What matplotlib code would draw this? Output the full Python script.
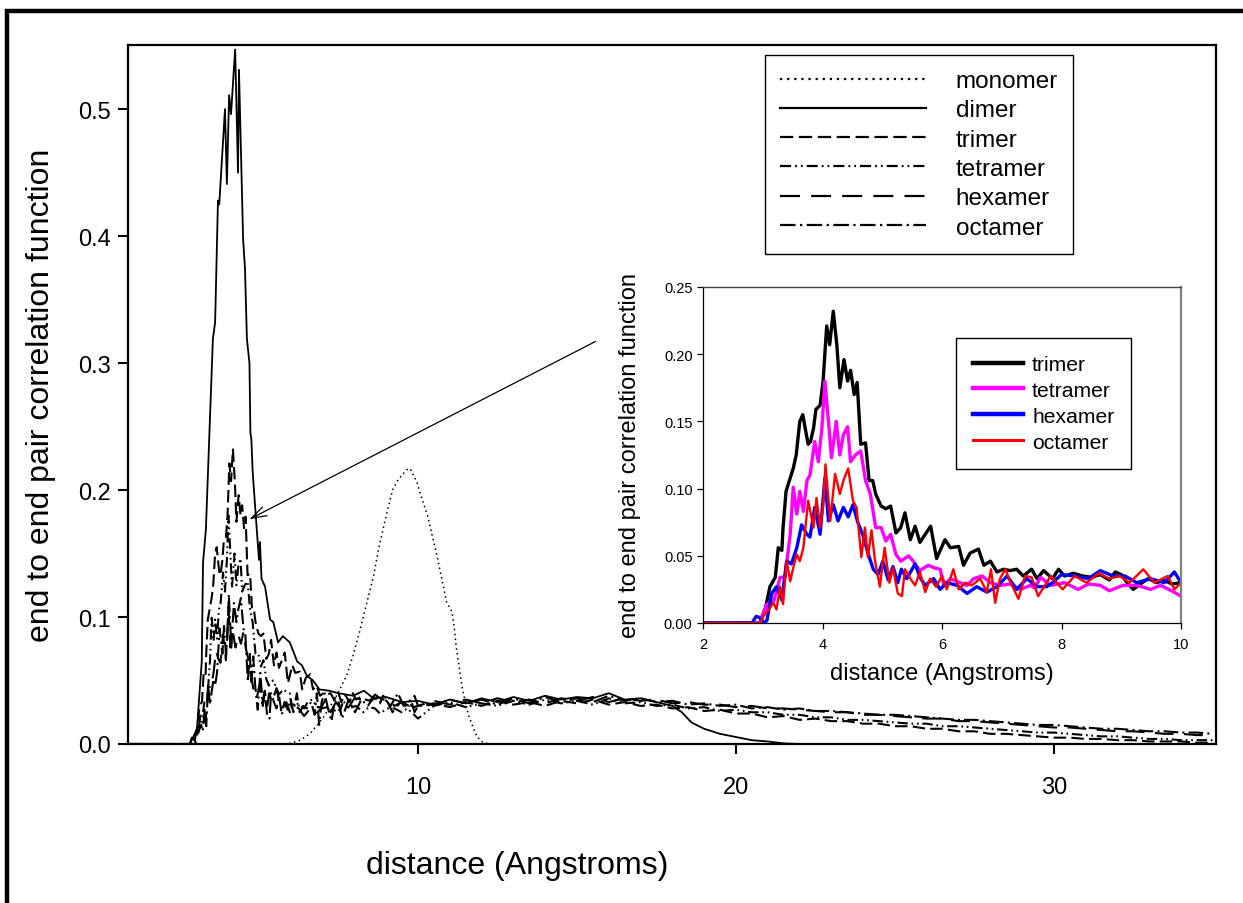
import numpy as np
import matplotlib
matplotlib.use("Agg")
import matplotlib.pyplot as plt
from matplotlib.patches import Rectangle

plt.rcParams['font.family'] = ['Liberation Sans', 'DejaVu Sans']

# ---- data ----
# inset range (2-10 A), shared with the main plot
trimer_x = [2.0, 2.95, 3.05, 3.12, 3.21, 3.26, 3.32, 3.34, 3.39, 3.46, 3.51, 3.56, 3.62, 3.67, 3.71, 3.76,
            3.80, 3.85, 3.89, 3.96, 4.01, 4.07, 4.12, 4.18, 4.24, 4.29, 4.36, 4.42, 4.47, 4.53, 4.58, 4.64,
            4.72, 4.78, 4.84, 4.89, 4.98, 5.06, 5.14, 5.23, 5.31, 5.38, 5.47, 5.55, 5.63, 5.72, 5.81, 5.91,
            6.05, 6.14, 6.28, 6.36, 6.47, 6.61, 6.70, 6.81, 6.92, 7.03, 7.14, 7.25, 7.36, 7.50, 7.59, 7.70,
            7.85, 7.95, 8.05, 8.20, 8.35, 8.50, 8.65, 8.80, 8.90, 9.00, 9.10, 9.20, 9.35, 9.45, 9.60, 9.70,
            9.85, 10.0]
trimer_y = [0.0, 0.0, 0.012, 0.027, 0.034, 0.056, 0.054, 0.071, 0.098, 0.108, 0.115, 0.125, 0.150, 0.155, 0.145, 0.133,
            0.135, 0.145, 0.159, 0.162, 0.180, 0.221, 0.207, 0.232, 0.207, 0.175, 0.196, 0.180, 0.188, 0.170, 0.179, 0.133,
            0.134, 0.106, 0.106, 0.096, 0.087, 0.085, 0.087, 0.067, 0.071, 0.082, 0.062, 0.072, 0.060, 0.066, 0.072, 0.048,
            0.062, 0.056, 0.057, 0.043, 0.052, 0.055, 0.043, 0.046, 0.038, 0.040, 0.039, 0.040, 0.035, 0.040, 0.033, 0.039,
            0.033, 0.040, 0.035, 0.037, 0.035, 0.034, 0.036, 0.032, 0.038, 0.036, 0.030, 0.025, 0.030, 0.033, 0.030, 0.032,
            0.029, 0.030]

tetramer_x = [2.0, 2.95, 2.98, 3.07, 3.19, 3.29, 3.37, 3.46, 3.51, 3.57, 3.62, 3.68, 3.74, 3.79, 3.87, 3.93,
              3.99, 4.04, 4.10, 4.15, 4.23, 4.29, 4.35, 4.42, 4.47, 4.55, 4.64, 4.72, 4.80, 4.89, 4.98, 5.06,
              5.14, 5.23, 5.31, 5.44, 5.50, 5.63, 5.77, 5.87, 5.97, 6.03, 6.14, 6.30, 6.42, 6.53, 6.67, 6.81,
              6.97, 7.14, 7.31, 7.48, 7.55, 7.65, 7.82, 8.05, 8.28, 8.45, 8.65, 8.80, 9.03, 9.26, 9.49, 9.66,
              9.84, 10.0]
tetramer_y = [0.0, 0.0, 0.004, 0.014, 0.017, 0.034, 0.034, 0.066, 0.101, 0.081, 0.098, 0.083, 0.106, 0.110, 0.135, 0.120,
              0.145, 0.180, 0.150, 0.123, 0.150, 0.125, 0.140, 0.146, 0.120, 0.125, 0.128, 0.106, 0.096, 0.071, 0.071, 0.061,
              0.066, 0.051, 0.046, 0.050, 0.047, 0.039, 0.043, 0.041, 0.040, 0.028, 0.033, 0.030, 0.028, 0.033, 0.035, 0.030,
              0.028, 0.029, 0.025, 0.028, 0.026, 0.034, 0.028, 0.030, 0.025, 0.029, 0.028, 0.024, 0.028, 0.028, 0.025, 0.028,
              0.024, 0.020]

hexamer_x = [2.0, 2.82, 2.89, 2.95, 3.03, 3.07, 3.15, 3.23, 3.32, 3.40, 3.48, 3.57, 3.65, 3.74, 3.79, 3.87,
             3.96, 4.04, 4.10, 4.18, 4.26, 4.35, 4.43, 4.51, 4.59, 4.68, 4.76, 4.85, 4.93, 5.01, 5.10, 5.18,
             5.26, 5.32, 5.41, 5.55, 5.63, 5.72, 5.86, 5.97, 6.08, 6.25, 6.42, 6.58, 6.75, 6.92, 7.09, 7.25,
             7.42, 7.59, 7.75, 7.85, 8.00, 8.22, 8.45, 8.65, 8.86, 9.06, 9.26, 9.49, 9.72, 9.89, 10.0]
hexamer_y = [0.0, 0.0, 0.005, 0.004, 0.0, 0.002, 0.022, 0.027, 0.017, 0.046, 0.044, 0.056, 0.073, 0.066, 0.064, 0.086,
             0.066, 0.108, 0.076, 0.088, 0.076, 0.086, 0.079, 0.088, 0.075, 0.065, 0.052, 0.040, 0.036, 0.046, 0.032, 0.042,
             0.030, 0.040, 0.033, 0.044, 0.034, 0.028, 0.033, 0.025, 0.030, 0.028, 0.022, 0.027, 0.023, 0.027, 0.035, 0.025,
             0.033, 0.027, 0.027, 0.030, 0.036, 0.035, 0.033, 0.039, 0.035, 0.035, 0.030, 0.033, 0.030, 0.038, 0.030]

octamer_x = [2.0, 2.95, 3.01, 3.10, 3.18, 3.23, 3.29, 3.34, 3.40, 3.46, 3.51, 3.57, 3.62, 3.68, 3.76, 3.85,
             3.90, 3.96, 4.01, 4.05, 4.13, 4.21, 4.29, 4.35, 4.43, 4.51, 4.57, 4.65, 4.71, 4.76, 4.82, 4.88,
             4.96, 5.04, 5.12, 5.18, 5.26, 5.33, 5.38, 5.47, 5.55, 5.63, 5.72, 5.80, 5.90, 6.00, 6.08, 6.19,
             6.28, 6.39, 6.50, 6.64, 6.75, 6.82, 6.89, 6.97, 7.06, 7.17, 7.28, 7.39, 7.50, 7.61, 7.82, 8.02,
             8.22, 8.42, 8.62, 8.80, 8.97, 9.14, 9.37, 9.55, 9.78, 9.89, 10.0]
octamer_y = [0.0, 0.0, 0.005, 0.010, 0.015, 0.010, 0.027, 0.014, 0.046, 0.031, 0.041, 0.051, 0.046, 0.056, 0.091, 0.071,
             0.093, 0.071, 0.086, 0.118, 0.076, 0.111, 0.096, 0.106, 0.115, 0.091, 0.086, 0.049, 0.071, 0.049, 0.069, 0.046,
             0.027, 0.056, 0.030, 0.041, 0.022, 0.020, 0.040, 0.033, 0.028, 0.038, 0.023, 0.033, 0.027, 0.035, 0.025, 0.040,
             0.025, 0.030, 0.028, 0.033, 0.023, 0.040, 0.015, 0.033, 0.040, 0.028, 0.018, 0.035, 0.034, 0.020, 0.035, 0.025,
             0.035, 0.030, 0.037, 0.033, 0.035, 0.030, 0.040, 0.030, 0.035, 0.025, 0.030]

# tails beyond 10 A, only in the main plot
tail_x = [10.5, 11.0, 11.5, 12.0, 12.5, 13.0, 13.5, 14.0, 14.5, 15.0, 15.5, 16.0, 16.5, 17.0, 17.5, 18.0, 18.5,
          19.0, 19.5, 20.0, 20.5, 21.0, 21.5, 22.0, 22.5, 23.0, 23.5, 24.0, 24.5, 25.0, 25.5, 26.0, 26.5, 27.0,
          27.5, 28.0, 28.5, 29.0, 29.5, 30.0, 30.5, 31.0, 31.5, 32.0, 32.5, 33.0, 33.5, 34.0, 34.5, 35.0]
trimer_tail = [0.032, 0.029, 0.033, 0.030, 0.034, 0.031, 0.033, 0.030, 0.034, 0.032, 0.035, 0.031, 0.033, 0.030, 0.031,
               0.028, 0.029, 0.026, 0.027, 0.024, 0.024, 0.021, 0.022, 0.019, 0.020, 0.018, 0.018, 0.016, 0.016, 0.014,
               0.014, 0.012, 0.012, 0.010, 0.010, 0.008, 0.008, 0.007, 0.006, 0.005, 0.005, 0.004, 0.004, 0.003, 0.003,
               0.002, 0.002, 0.002, 0.001, 0.001]
tetramer_tail = [0.030, 0.033, 0.029, 0.032, 0.030, 0.034, 0.031, 0.035, 0.032, 0.034, 0.031, 0.036, 0.032, 0.033, 0.030,
                 0.031, 0.028, 0.029, 0.026, 0.027, 0.025, 0.025, 0.023, 0.023, 0.021, 0.021, 0.019, 0.019, 0.018, 0.017,
                 0.016, 0.016, 0.014, 0.014, 0.013, 0.012, 0.011, 0.010, 0.009, 0.009, 0.008, 0.007, 0.006, 0.006, 0.005,
                 0.004, 0.004, 0.003, 0.003, 0.003]
hexamer_tail = [0.034, 0.031, 0.035, 0.032, 0.036, 0.033, 0.035, 0.032, 0.036, 0.034, 0.037, 0.033, 0.036, 0.034, 0.035,
                0.032, 0.033, 0.031, 0.031, 0.029, 0.030, 0.028, 0.028, 0.027, 0.026, 0.025, 0.025, 0.023, 0.023, 0.022,
                0.021, 0.020, 0.020, 0.018, 0.018, 0.017, 0.016, 0.015, 0.014, 0.013, 0.013, 0.012, 0.011, 0.010, 0.010,
                0.009, 0.008, 0.008, 0.007, 0.007]
octamer_tail = [0.031, 0.035, 0.032, 0.035, 0.031, 0.036, 0.032, 0.037, 0.033, 0.036, 0.033, 0.038, 0.034, 0.036, 0.033,
                0.034, 0.031, 0.032, 0.030, 0.031, 0.028, 0.029, 0.027, 0.028, 0.026, 0.026, 0.025, 0.024, 0.023, 0.023,
                0.022, 0.021, 0.020, 0.019, 0.019, 0.018, 0.017, 0.016, 0.015, 0.015, 0.014, 0.013, 0.012, 0.012, 0.011,
                0.010, 0.010, 0.009, 0.009, 0.008]

dimer_x = [0.88, 2.83, 3.05, 3.20, 3.24, 3.33, 3.46, 3.55, 3.62, 3.71, 3.75, 3.93, 3.99, 4.06, 4.12, 4.25, 4.34,
           4.37, 4.50, 4.56, 4.62, 4.70, 4.73, 4.76, 4.80, 4.87, 4.93, 5.00, 5.03, 5.08, 5.19, 5.35, 5.45, 5.60,
           5.75, 5.97, 6.20, 6.35, 6.50, 6.70, 6.90, 7.20, 7.50, 7.96, 8.30, 8.60, 9.0, 9.5, 10.0, 10.5, 11.0,
           11.5, 12.0, 12.5, 13.0, 13.5, 14.0, 14.5, 15.0, 15.5, 16.0, 16.5, 17.0, 17.5, 18.0, 18.3, 18.6, 19.0,
           19.5, 19.9, 20.5, 21.0, 21.5, 22.0, 35.1]
dimer_y = [0.0, 0.0, 0.012, 0.065, 0.143, 0.169, 0.258, 0.319, 0.332, 0.428, 0.425, 0.500, 0.441, 0.511, 0.496, 0.547, 0.450,
           0.531, 0.398, 0.374, 0.319, 0.300, 0.245, 0.240, 0.215, 0.190, 0.169, 0.145, 0.159, 0.130, 0.124, 0.098, 0.096, 0.080,
           0.085, 0.080, 0.065, 0.062, 0.054, 0.050, 0.043, 0.042, 0.040, 0.038, 0.042, 0.036, 0.037, 0.033, 0.034, 0.031, 0.035,
           0.032, 0.036, 0.033, 0.037, 0.034, 0.038, 0.035, 0.037, 0.036, 0.040, 0.035, 0.036, 0.033, 0.030, 0.025, 0.017, 0.012,
           0.008, 0.006, 0.003, 0.002, 0.0005, 0.0, 0.0]

monomer_x = [0.88, 5.9, 6.3, 6.6, 6.8, 7.0, 7.2, 7.4, 7.6, 7.76, 7.9, 8.05, 8.18, 8.3, 8.45, 8.6, 8.75, 8.9, 9.05,
             9.2, 9.35, 9.5, 9.65, 9.75, 9.85, 9.97, 10.1, 10.3, 10.45, 10.6, 10.75, 10.9, 11.07, 11.15, 11.2, 11.3,
             11.4, 11.5, 11.6, 11.75, 11.85, 12.05, 12.3, 35.1]
monomer_y = [0.0, 0.0, 0.003, 0.008, 0.014, 0.020, 0.028, 0.036, 0.046, 0.054, 0.065, 0.078, 0.090, 0.102, 0.117, 0.132,
             0.152, 0.169, 0.185, 0.200, 0.207, 0.212, 0.216, 0.217, 0.212, 0.206, 0.195, 0.180, 0.164, 0.148, 0.130, 0.112,
             0.104, 0.090, 0.077, 0.060, 0.043, 0.032, 0.022, 0.012, 0.006, 0.001, 0.0, 0.0]

main_labels = ['monomer', 'dimer', 'trimer', 'tetramer', 'hexamer', 'octamer']
inset_labels = ['trimer', 'tetramer', 'hexamer', 'octamer']
inset_colors = ['black', '#ff00ff', '#0000ff', '#ff0000']

W, H = 1243, 904
fig = plt.figure(figsize=(W / 100, H / 100), dpi=100)

# outer frame (only top and left edges visible)
fig.patches.append(Rectangle((7 / W, -0.1), 1.2, 1 - 12 / H + 0.1, transform=fig.transFigure,
                             fill=False, lw=3.2, edgecolor='black', clip_on=False))

# ---- main plot ----
ax = fig.add_axes([128 / W, 1 - 745 / H, (1216 - 128) / W, (745 - 46) / H])
main_styles = [(0, (1, 2.2)), '-', (0, (6, 2.5)), (0, (5, 1.8, 0.8, 1.8, 0.8, 1.8)), (0, (9, 5)), (0, (7, 2, 1, 2))]
main_lw = [1.1, 1.3, 1.5, 1.5, 1.5, 1.5]

series = [
    (monomer_x, monomer_y),
    (dimer_x, dimer_y),
    ([0.88] + trimer_x + tail_x, [0.0] + trimer_y + trimer_tail),
    ([0.88] + tetramer_x + tail_x, [0.0] + tetramer_y + tetramer_tail),
    ([0.88] + hexamer_x + tail_x, [0.0] + hexamer_y + hexamer_tail),
    ([0.88] + octamer_x + tail_x, [0.0] + octamer_y + octamer_tail),
]
for (xs, ys), lab, ls, lw in zip(series, main_labels, main_styles, main_lw):
    ax.plot(xs, ys, color='black', ls=ls, lw=lw, label=lab)

ax.set_xlim(0.88, 35.1)
ax.set_ylim(0, 0.5505)
ax.set_xticks([10, 20, 30])
ax.set_yticks([0.0, 0.1, 0.2, 0.3, 0.4, 0.5])
ax.set_yticklabels(['0.0', '0.1', '0.2', '0.3', '0.4', '0.5'])
ax.tick_params(axis='both', direction='out', length=7, width=1.5, labelsize=17)
ax.tick_params(axis='x', pad=16)
ax.tick_params(axis='y', pad=5)
for sp in ax.spines.values():
    sp.set_linewidth(1.6)

ax.set_xlabel('distance (Angstroms)', fontsize=23)
ax.xaxis.set_label_coords(0.358, -0.152)
ax.set_ylabel('end to end pair correlation function', fontsize=23)
ax.yaxis.set_label_coords(-0.066, 0.5)

leg = ax.legend(loc='upper left', bbox_to_anchor=(765 / W, 1 - 56 / H), bbox_transform=fig.transFigure,
                fontsize=17.5, handlelength=6.0, handletextpad=1.23, labelspacing=0.3, borderpad=0.62,
                fancybox=False, framealpha=1, edgecolor='black', borderaxespad=0)
leg.get_frame().set_linewidth(1.0)
for h in leg.get_lines():
    h.set_linewidth(1.6)

# arrow pointing from the inset to the peak
ax.annotate('', xy=(4.62, 0.176), xytext=(15.66, 0.318),
            arrowprops=dict(arrowstyle='->,head_length=1.1,head_width=0.35', color='black', lw=0.9))

# ---- inset ----
axi = fig.add_axes([703 / W, 1 - 624 / H, 478 / W, 336 / H])
inset_series = [(trimer_x, trimer_y), (tetramer_x, tetramer_y), (hexamer_x, hexamer_y), (octamer_x, octamer_y)]
inset_lw = [2.4, 2.4, 2.4, 1.7]
for (xs, ys), lab, col, lw in zip(inset_series, inset_labels, inset_colors, inset_lw):
    axi.plot(xs, ys, color=col, lw=lw, label=lab)

axi.set_xlim(2, 10)
axi.set_ylim(0, 0.25)
axi.set_xticks([2, 4, 6, 8, 10])
axi.set_yticks([0.0, 0.05, 0.10, 0.15, 0.20, 0.25])
axi.set_yticklabels(['0.00', '0.05', '0.10', '0.15', '0.20', '0.25'])
axi.tick_params(axis='both', direction='out', length=4, width=0.9, labelsize=10.5)
axi.tick_params(axis='x', pad=6)
axi.spines['left'].set_linewidth(0.9)
axi.spines['bottom'].set_linewidth(0.9)
axi.spines['top'].set_linewidth(1.0)
axi.spines['top'].set_color('#444444')
axi.spines['right'].set_linewidth(1.6)
axi.spines['right'].set_color('#808080')
axi.set_xlabel('distance (Angstroms)', fontsize=17)
axi.xaxis.set_label_coords(0.5, -0.115)
axi.set_ylabel('end to end pair correlation function', fontsize=17)
axi.yaxis.set_label_coords(-0.13, 0.5)

legi = axi.legend(loc='upper left', bbox_to_anchor=(956 / W, 1 - 339 / H), bbox_transform=fig.transFigure,
                  fontsize=15.2, handlelength=2.37, handletextpad=0.43, labelspacing=0.33, borderpad=0.8,
                  fancybox=False, framealpha=1, edgecolor='black', borderaxespad=0)
legi.get_frame().set_linewidth(1.0)
for h, lw in zip(legi.get_lines(), [3.2, 3.2, 3.2, 2.2]):
    h.set_linewidth(lw)

fig.savefig('out.png', dpi=100)
